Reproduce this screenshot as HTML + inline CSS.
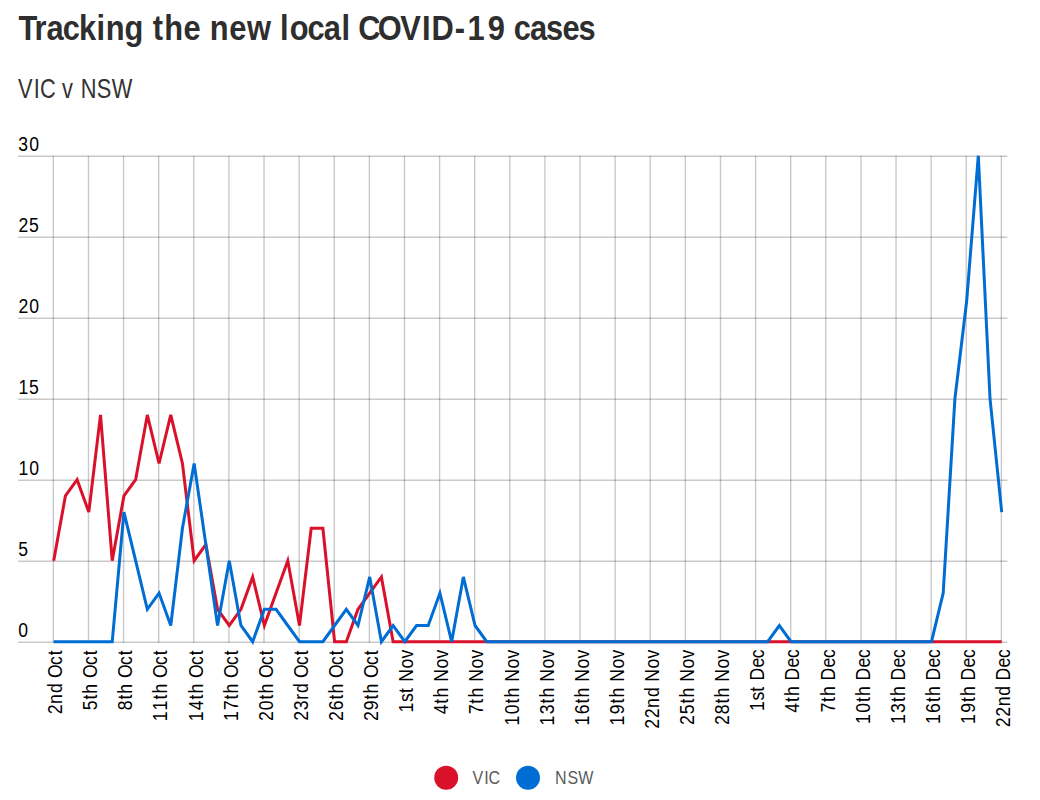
<!DOCTYPE html>
<html lang="en">
<head>
<meta charset="utf-8">
<title>Tracking the new local COVID-19 cases</title>
<style>
html,body{margin:0;padding:0;background:#fff;}
body{width:1040px;height:800px;overflow:hidden;font-family:"Liberation Sans",sans-serif;}
svg{display:block;position:absolute;left:0;top:0;}
text{font-family:"Liberation Sans",sans-serif;}
.title{font-weight:bold;font-size:35.3px;fill:#2e2e2e;}
.sub{font-size:27.3px;fill:#333;}
.tick{font-size:19.6px;fill:#000;}
.leg{font-size:19.2px;fill:#5a5a5a;}
.grid line{stroke:#000;stroke-opacity:0.21;stroke-width:1.4;}
.series{fill:none;stroke-width:3.0;stroke-linejoin:miter;stroke-linecap:butt;}
</style>
</head>
<body>
<svg width="1040" height="800" viewBox="0 0 1040 800">

<text id="title" class="title" transform="translate(18.00,40.00) scale(0.8734,1)" x="0.54 18.88 32.75 51.28 69.93 89.82 100.45 122.07 143.36 154.18 167.43 189.5 209.51 219.64 241.76 262.26 289.36 300.05 311.07 331.48 350.08 370.36 381.31 389.68 412 437.68 462.54 473.4 500.17 514.71 537.78 558.51 567.68 586.27 604.57 623.37 641.75" y="0">Tracking the new local COVID-19 cases</text>
<text id="sub" class="sub" transform="translate(18.00,97.80) scale(0.7997,1)" x="0.09 19.79 27.43 45.7 55 68.83 78.57 98.61 117.24" y="0">VIC v NSW</text>
<text id="yt0" class="tick" transform="translate(18.10,637.10) scale(0.8979,1)" x="0.24" y="0">0</text>
<text id="yt1" class="tick" transform="translate(18.10,556.10) scale(0.8979,1)" x="0.23" y="0">5</text>
<text id="yt2" class="tick" transform="translate(18.10,475.10) scale(0.8979,1)" x="0.33 12.29" y="0">10</text>
<text id="yt3" class="tick" transform="translate(18.10,394.10) scale(0.8979,1)" x="0.33 12.26" y="0">15</text>
<text id="yt4" class="tick" transform="translate(18.10,313.10) scale(0.8979,1)" x="0.49 12.29" y="0">20</text>
<text id="yt5" class="tick" transform="translate(18.10,232.10) scale(0.8979,1)" x="0.49 12.26" y="0">25</text>
<text id="yt6" class="tick" transform="translate(18.10,151.10) scale(0.8979,1)" x="0.26 12.29" y="0">30</text>
<text id="xt0" class="tick" transform="translate(62.10,649.30) rotate(-90) scale(0.8979,1)" x="-72.34 -60.94 -48.75 -37.64 -31.87 -17.42 -6.77" y="0">2nd Oct</text>
<text id="xt1" class="tick" transform="translate(97.21,649.30) rotate(-90) scale(0.8979,1)" x="-67.88 -55.94 -49.38 -37.64 -31.87 -17.42 -6.77" y="0">5th Oct</text>
<text id="xt2" class="tick" transform="translate(132.32,649.30) rotate(-90) scale(0.8979,1)" x="-68.03 -55.94 -49.38 -37.64 -31.87 -17.42 -6.77" y="0">8th Oct</text>
<text id="xt3" class="tick" transform="translate(167.44,649.30) rotate(-90) scale(0.8979,1)" x="-80.19 -68.25 -55.95 -49.36 -37.64 -31.87 -17.41 -6.76" y="0">11th Oct</text>
<text id="xt4" class="tick" transform="translate(202.55,649.30) rotate(-90) scale(0.8979,1)" x="-80.09 -67.92 -55.95 -49.36 -37.64 -31.86 -17.41 -6.76" y="0">14th Oct</text>
<text id="xt5" class="tick" transform="translate(237.66,649.30) rotate(-90) scale(0.8979,1)" x="-79.79 -67.92 -55.95 -49.36 -37.64 -31.86 -17.41 -6.76" y="0">17th Oct</text>
<text id="xt6" class="tick" transform="translate(272.77,649.30) rotate(-90) scale(0.8979,1)" x="-79.88 -67.98 -55.95 -49.36 -37.64 -31.86 -17.41 -6.76" y="0">20th Oct</text>
<text id="xt7" class="tick" transform="translate(307.88,649.30) rotate(-90) scale(0.8979,1)" x="-79.67 -68 -56.13 -48.74 -37.64 -31.86 -17.41 -6.77" y="0">23rd Oct</text>
<text id="xt8" class="tick" transform="translate(343.00,649.30) rotate(-90) scale(0.8979,1)" x="-79.88 -68 -55.95 -49.36 -37.64 -31.86 -17.41 -6.76" y="0">26th Oct</text>
<text id="xt9" class="tick" transform="translate(378.11,649.30) rotate(-90) scale(0.8979,1)" x="-79.88 -67.96 -55.95 -49.36 -37.64 -31.86 -17.41 -6.76" y="0">29th Oct</text>
<text id="xt10" class="tick" transform="translate(413.22,649.30) rotate(-90) scale(0.8979,1)" x="-70.27 -58.79 -48.68 -42.08 -36.21 -21.32 -10.31" y="0">1st Nov</text>
<text id="xt11" class="tick" transform="translate(448.33,649.30) rotate(-90) scale(0.8979,1)" x="-72.34 -60.68 -53.79 -42.06 -36.21 -21.32 -10.31" y="0">4th Nov</text>
<text id="xt12" class="tick" transform="translate(483.44,649.30) rotate(-90) scale(0.8979,1)" x="-72.36 -60.69 -53.8 -42.07 -36.22 -21.33 -10.31" y="0">7th Nov</text>
<text id="xt13" class="tick" transform="translate(518.56,649.30) rotate(-90) scale(0.8979,1)" x="-84.76 -72.42 -60.38 -53.8 -42.08 -36.22 -21.33 -10.31" y="0">10th Nov</text>
<text id="xt14" class="tick" transform="translate(553.67,649.30) rotate(-90) scale(0.8979,1)" x="-84.76 -72.33 -60.38 -53.8 -42.08 -36.22 -21.33 -10.31" y="0">13th Nov</text>
<text id="xt15" class="tick" transform="translate(588.78,649.30) rotate(-90) scale(0.8979,1)" x="-84.76 -72.43 -60.38 -53.8 -42.08 -36.22 -21.33 -10.31" y="0">16th Nov</text>
<text id="xt16" class="tick" transform="translate(623.89,649.30) rotate(-90) scale(0.8979,1)" x="-84.76 -72.4 -60.38 -53.8 -42.08 -36.22 -21.33 -10.31" y="0">19th Nov</text>
<text id="xt17" class="tick" transform="translate(659.00,649.30) rotate(-90) scale(0.8979,1)" x="-88.58 -76.76 -65.39 -53.17 -42.08 -36.22 -21.34 -10.31" y="0">22nd Nov</text>
<text id="xt18" class="tick" transform="translate(694.12,649.30) rotate(-90) scale(0.8979,1)" x="-84.31 -72.32 -60.38 -53.8 -42.08 -36.22 -21.33 -10.31" y="0">25th Nov</text>
<text id="xt19" class="tick" transform="translate(729.23,649.30) rotate(-90) scale(0.8979,1)" x="-84.31 -72.46 -60.38 -53.8 -42.08 -36.22 -21.33 -10.31" y="0">28th Nov</text>
<text id="xt20" class="tick" transform="translate(764.34,649.30) rotate(-90) scale(0.8979,1)" x="-68.59 -57.04 -47.21 -40.41 -34.68 -20.35 -9.98" y="0">1st Dec</text>
<text id="xt21" class="tick" transform="translate(799.45,649.30) rotate(-90) scale(0.8979,1)" x="-70.77 -58.83 -52.13 -40.41 -34.69 -20.36 -9.7" y="0">4th Dec</text>
<text id="xt22" class="tick" transform="translate(834.56,649.30) rotate(-90) scale(0.8979,1)" x="-70.42 -58.83 -52.12 -40.4 -34.68 -20.35 -9.7" y="0">7th Dec</text>
<text id="xt23" class="tick" transform="translate(869.68,649.30) rotate(-90) scale(0.8979,1)" x="-83.08 -70.65 -58.83 -52.11 -40.41 -34.68 -20.36 -9.7" y="0">10th Dec</text>
<text id="xt24" class="tick" transform="translate(904.79,649.30) rotate(-90) scale(0.8979,1)" x="-83.08 -70.87 -58.83 -52.11 -40.41 -34.68 -20.36 -9.7" y="0">13th Dec</text>
<text id="xt25" class="tick" transform="translate(939.90,649.30) rotate(-90) scale(0.8979,1)" x="-83.08 -70.9 -58.83 -52.11 -40.41 -34.68 -20.36 -9.7" y="0">16th Dec</text>
<text id="xt26" class="tick" transform="translate(975.01,649.30) rotate(-90) scale(0.8979,1)" x="-83.08 -70.68 -58.83 -52.11 -40.41 -34.68 -20.36 -9.7" y="0">19th Dec</text>
<text id="xt27" class="tick" transform="translate(1010.12,649.30) rotate(-90) scale(0.8979,1)" x="-86.87 -75.17 -63.45 -51.61 -40.41 -34.68 -20.36 -9.7" y="0">22nd Dec</text>
<text id="leg0" class="leg" transform="translate(472.40,784.00) scale(0.8353,1)" x="0.21 14.14 19.32" y="0">VIC</text>
<text id="leg1" class="leg" transform="translate(554.60,784.00) scale(0.8353,1)" x="0.64 15.44 28.42" y="0">NSW</text>
<g class="grid">
<line x1="18.1" x2="1007.3" y1="642.30" y2="642.30"/>
<line x1="18.1" x2="1007.3" y1="561.30" y2="561.30"/>
<line x1="18.1" x2="1007.3" y1="480.30" y2="480.30"/>
<line x1="18.1" x2="1007.3" y1="399.30" y2="399.30"/>
<line x1="18.1" x2="1007.3" y1="318.30" y2="318.30"/>
<line x1="18.1" x2="1007.3" y1="237.30" y2="237.30"/>
<line x1="18.1" x2="1007.3" y1="156.30" y2="156.30"/>
<line x1="53.35" x2="53.35" y1="155.80" y2="642.80"/>
<line x1="88.46" x2="88.46" y1="155.80" y2="642.80"/>
<line x1="123.57" x2="123.57" y1="155.80" y2="642.80"/>
<line x1="158.69" x2="158.69" y1="155.80" y2="642.80"/>
<line x1="193.80" x2="193.80" y1="155.80" y2="642.80"/>
<line x1="228.91" x2="228.91" y1="155.80" y2="642.80"/>
<line x1="264.02" x2="264.02" y1="155.80" y2="642.80"/>
<line x1="299.13" x2="299.13" y1="155.80" y2="642.80"/>
<line x1="334.25" x2="334.25" y1="155.80" y2="642.80"/>
<line x1="369.36" x2="369.36" y1="155.80" y2="642.80"/>
<line x1="404.47" x2="404.47" y1="155.80" y2="642.80"/>
<line x1="439.58" x2="439.58" y1="155.80" y2="642.80"/>
<line x1="474.69" x2="474.69" y1="155.80" y2="642.80"/>
<line x1="509.81" x2="509.81" y1="155.80" y2="642.80"/>
<line x1="544.92" x2="544.92" y1="155.80" y2="642.80"/>
<line x1="580.03" x2="580.03" y1="155.80" y2="642.80"/>
<line x1="615.14" x2="615.14" y1="155.80" y2="642.80"/>
<line x1="650.25" x2="650.25" y1="155.80" y2="642.80"/>
<line x1="685.37" x2="685.37" y1="155.80" y2="642.80"/>
<line x1="720.48" x2="720.48" y1="155.80" y2="642.80"/>
<line x1="755.59" x2="755.59" y1="155.80" y2="642.80"/>
<line x1="790.70" x2="790.70" y1="155.80" y2="642.80"/>
<line x1="825.81" x2="825.81" y1="155.80" y2="642.80"/>
<line x1="860.93" x2="860.93" y1="155.80" y2="642.80"/>
<line x1="896.04" x2="896.04" y1="155.80" y2="642.80"/>
<line x1="931.15" x2="931.15" y1="155.80" y2="642.80"/>
<line x1="966.26" x2="966.26" y1="155.80" y2="642.80"/>
<line x1="1001.37" x2="1001.37" y1="155.80" y2="642.80"/>
</g>
<path class="series" stroke="#da112b" d="M53.70,560.70L65.40,495.90L77.11,479.70L88.81,512.10L100.52,414.90L112.22,560.70L123.92,495.90L135.63,479.70L147.33,414.90L159.04,463.50L170.74,414.90L182.44,463.50L194.15,560.70L205.85,544.50L217.56,609.30L229.26,625.50L240.96,609.30L252.67,576.90L264.37,625.50L276.08,593.10L287.78,560.70L299.48,625.50L311.19,528.30L322.89,528.30L334.60,641.70L346.30,641.70L358.00,609.30L369.71,593.10L381.41,576.90L393.12,641.70L404.82,641.70L416.52,641.70L428.23,641.70L439.93,641.70L451.64,641.70L463.34,641.70L475.04,641.70L486.75,641.70L498.45,641.70L510.16,641.70L521.86,641.70L533.56,641.70L545.27,641.70L556.97,641.70L568.68,641.70L580.38,641.70L592.08,641.70L603.79,641.70L615.49,641.70L627.20,641.70L638.90,641.70L650.60,641.70L662.31,641.70L674.01,641.70L685.72,641.70L697.42,641.70L709.12,641.70L720.83,641.70L732.53,641.70L744.24,641.70L755.94,641.70L767.64,641.70L779.35,641.70L791.05,641.70L802.76,641.70L814.46,641.70L826.16,641.70L837.87,641.70L849.57,641.70L861.28,641.70L872.98,641.70L884.68,641.70L896.39,641.70L908.09,641.70L919.80,641.70L931.50,641.70L943.20,641.70L954.91,641.70L966.61,641.70L978.32,641.70L990.02,641.70L1001.72,641.70"/>
<path class="series" stroke="#006dd4" d="M53.70,641.70L65.40,641.70L77.11,641.70L88.81,641.70L100.52,641.70L112.22,641.70L123.92,512.10L135.63,560.70L147.33,609.30L159.04,593.10L170.74,625.50L182.44,528.30L194.15,463.50L205.85,544.50L217.56,625.50L229.26,560.70L240.96,625.50L252.67,641.70L264.37,609.30L276.08,609.30L287.78,625.50L299.48,641.70L311.19,641.70L322.89,641.70L334.60,625.50L346.30,609.30L358.00,625.50L369.71,576.90L381.41,641.70L393.12,625.50L404.82,641.70L416.52,625.50L428.23,625.50L439.93,593.10L451.64,641.70L463.34,576.90L475.04,625.50L486.75,641.70L498.45,641.70L510.16,641.70L521.86,641.70L533.56,641.70L545.27,641.70L556.97,641.70L568.68,641.70L580.38,641.70L592.08,641.70L603.79,641.70L615.49,641.70L627.20,641.70L638.90,641.70L650.60,641.70L662.31,641.70L674.01,641.70L685.72,641.70L697.42,641.70L709.12,641.70L720.83,641.70L732.53,641.70L744.24,641.70L755.94,641.70L767.64,641.70L779.35,625.50L791.05,641.70L802.76,641.70L814.46,641.70L826.16,641.70L837.87,641.70L849.57,641.70L861.28,641.70L872.98,641.70L884.68,641.70L896.39,641.70L908.09,641.70L919.80,641.70L931.50,641.70L943.20,593.10L954.91,398.70L966.61,301.50L978.32,155.70L990.02,398.70L1001.72,512.10"/>
<circle cx="446.2" cy="777.8" r="12" fill="#da112b"/>
<circle cx="528.0" cy="777.8" r="12" fill="#006dd4"/>
</svg>
</body>
</html>
